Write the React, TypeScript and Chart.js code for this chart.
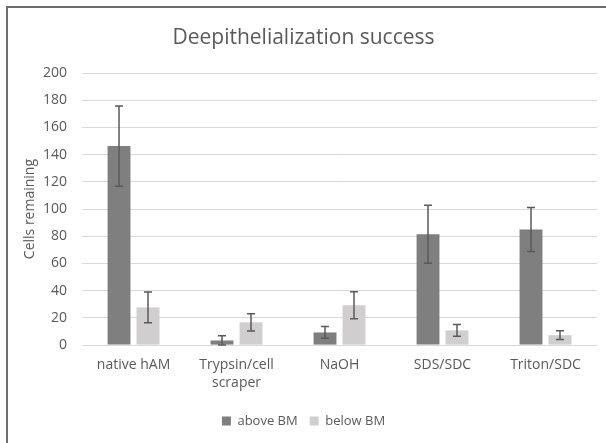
import React, { useEffect, useRef } from "react";
import { Chart, registerables } from "chart.js";

Chart.register(...registerables);

const categories: (string | string[])[] = [
  "native hAM",
  ["Trypsin/cell", "scraper"],
  "NaOH",
  "SDS/SDC",
  "Triton/SDC",
];
const aboveBM = [146.3, 3.4, 9.3, 81.5, 85.0];
const aboveBMErr = [29.5, 3.4, 4.3, 21.3, 16.2];
const belowBM = [27.7, 16.7, 29.3, 10.8, 7.3];
const belowBMErr = [11.3, 6.3, 9.9, 4.3, 3.2];
const seriesNames = ["above BM", "below BM"];
const yMin = 0;
const yMax = 200;
const yStep = 20;

const errors = [aboveBMErr, belowBMErr];

const FONT = "'Open Sans', sans-serif";
const TEXT = "#595959";

const errorBarPlugin = {
  id: "errorBars",
  afterDatasetsDraw(chart: any) {
    const ctx = chart.ctx;
    const yScale = chart.scales.y;
    ctx.save();
    ctx.strokeStyle = "#5a5a5a";
    ctx.lineWidth = 1.5;
    chart.data.datasets.forEach((ds: any, i: number) => {
      const meta = chart.getDatasetMeta(i);
      meta.data.forEach((el: any, j: number) => {
        const v = ds.data[j];
        const e = errors[i][j];
        const x = el.x;
        const yt = yScale.getPixelForValue(v + e);
        const yb = yScale.getPixelForValue(Math.max(0, v - e));
        ctx.beginPath();
        ctx.moveTo(x, yt);
        ctx.lineTo(x, yb);
        ctx.moveTo(x - 4, yt);
        ctx.lineTo(x + 4, yt);
        ctx.moveTo(x - 4, yb);
        ctx.lineTo(x + 4, yb);
        ctx.stroke();
      });
    });
    ctx.restore();
  },
};

const framePlugin = {
  id: "frame",
  beforeDraw(chart: any) {
    const ctx = chart.ctx;
    ctx.save();
    ctx.fillStyle = "#ffffff";
    ctx.fillRect(0, 0, chart.width, chart.height);
    ctx.fillStyle = "#6e6e6e";
    ctx.fillRect(6, 6, chart.width - 6, 2);
    ctx.fillRect(6, 6, 2, chart.height - 6);
    ctx.restore();
  },
};

export default function App() {
  const ref = useRef<HTMLCanvasElement | null>(null);
  useEffect(() => {
    if (!ref.current) return;
    const chart = new Chart(ref.current, {
      type: "bar",
      data: {
        labels: categories,
        datasets: [
          {
            label: seriesNames[0],
            data: aboveBM,
            backgroundColor: "#7f7f7f",
            categoryPercentage: 0.563,
            barPercentage: 0.79,
          },
          {
            label: seriesNames[1],
            data: belowBM,
            backgroundColor: "#d0cece",
            categoryPercentage: 0.563,
            barPercentage: 0.79,
          },
        ],
      },
      options: {
        responsive: false,
        animation: false,
        devicePixelRatio: 1,
        layout: { padding: { left: 10, right: 9, top: 0, bottom: 5.5 } },
        plugins: {
          tooltip: { enabled: false },
          title: {
            display: true,
            text: "Deepithelialization success",
            color: TEXT,
            font: { family: FONT, size: 21, weight: "normal" },
            padding: { top: 25.4, bottom: 22.4 },
          },
          legend: {
            position: "bottom",
            labels: {
              color: TEXT,
              font: { family: FONT, size: 13 },
              boxWidth: 9,
              boxHeight: 9,
              padding: 12,
            },
          },
        },
        scales: {
          x: {
            grid: { display: false, drawTicks: false },
            border: { display: false },
            ticks: {
              color: TEXT,
              font: { family: FONT, size: 14, lineHeight: 1.3 },
              padding: 10.5,
              maxRotation: 0,
            },
          },
          y: {
            min: yMin,
            max: yMax,
            ticks: {
              stepSize: yStep,
              color: TEXT,
              font: { family: FONT, size: 14 },
              padding: 15,
            },
            grid: { color: "#d9d9d9", lineWidth: 1, drawTicks: false },
            border: { display: false },
            title: {
              display: true,
              text: "Cells remaining",
              color: TEXT,
              font: { family: FONT, size: 14 },
              padding: { top: 11.6, bottom: -10.4 },
            },
          },
        },
      },
      plugins: [framePlugin, errorBarPlugin],
    });
    return () => chart.destroy();
  }, []);
  return (
    <div style={{ position: "absolute", left: 0, top: 0, width: 606, height: 443 }}>
      <canvas ref={ref} width={606} height={443} />
    </div>
  );
}
